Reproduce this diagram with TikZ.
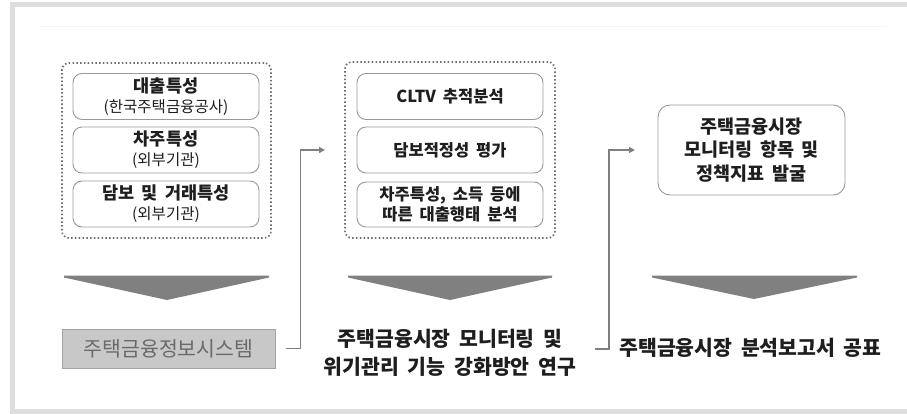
\documentclass[tikz,border=0pt]{standalone}
\usepackage{fontspec}
\setmainfont{Noto Sans CJK KR}
\usetikzlibrary{arrows.meta}
\definecolor{framegray}{HTML}{DEDEDE}
\definecolor{dotgray}{HTML}{6E6E6E}
\definecolor{boxgray}{HTML}{999999}
\definecolor{chevgray}{HTML}{808080}
\definecolor{sysfill}{HTML}{C8C8C8}
\definecolor{sysdraw}{HTML}{A3A3A3}
\definecolor{systext}{HTML}{6A6A6A}
\definecolor{txt}{HTML}{1E1E1E}
\definecolor{conngray}{HTML}{7F7F7F}
\newcommand{\wsp}{\spaceskip=0.42em plus 0.05em\relax}
\tikzset{
  dotbox/.style={draw=dotgray, line width=1.7pt, dash pattern=on 1.5pt off 2.3pt, rounded corners=7pt, minimum width=#1},
  dotbox/.default=209pt,
  itembox/.style={draw=boxgray, line width=0.9pt, rounded corners=9pt, fill=white, minimum width=186pt, minimum height=46pt, align=center, text=txt, inner sep=0pt},
  chev/.style={fill=chevgray, draw=none},
  conn/.style={draw=conngray, line width=1.5pt, -{Triangle[length=6pt,width=6pt]}},
  ttl/.style={font=\fontsize{17.5}{20}\selectfont\bfseries\wsp},
  mttl/.style={font=\fontsize{16.5}{20}\selectfont\bfseries\wsp},
  big/.style={font=\fontsize{20.5}{28}\selectfont\bfseries\wsp, text=txt, align=center, inner sep=0pt},
}
\newcommand{\sub}[1]{{\fontsize{15.5}{20}\selectfont\mdseries #1}}
\begin{document}
\begin{tikzpicture}[x=1pt,y=-1pt]
\useasboundingbox (0,0) rectangle (907,414);
% outer frame
\draw[framegray, line width=5pt] (907,4.5) -- (12.5,4.5) -- (12.5,411.5) -- (907,411.5);
\draw[black!4, line width=1pt] (40,27) -- (887,27);

% left column
\node[dotbox, minimum height=175pt] (dotL) at (166.5,150.5) {};
\node[itembox, ttl] (l1) at (166,96.5) {대출특성\\\sub{(한국주택금융공사)}};
\node[itembox, ttl] (l2) at (166,150) {차주특성\\\sub{(외부기관)}};
\node[itembox, ttl] (l3) at (166,204) {담보 및 거래특성\\\sub{(외부기관)}};
\fill[chev] (64,275.5) -- (269,275.5) -- (269,277.5) -- (167,300) -- (64,277.5) -- cycle;
\node[fill=sysfill, draw=sysdraw, line width=1pt, minimum width=213pt, minimum height=39pt, text=systext, font=\fontsize{20.5}{22}\selectfont, inner sep=0pt] (sys) at (168.5,348.5) {주택금융정보시스템};

% middle column
\node[dotbox=210pt, minimum height=176pt] (dotM) at (450,150) {};
\node[itembox, mttl] (m1) at (450,96.5) {CLTV 추적분석};
\node[itembox, mttl] (m2) at (450,150) {담보적정성 평가};
\node[itembox, mttl, minimum height=45pt] (m3) at (450,204.5) {차주특성, 소득 등에\\따른 대출행태 분석};
\fill[chev] (348,275.5) -- (552,275.5) -- (552,277.5) -- (450,300) -- (348,277.5) -- cycle;
\node[big] (mid) at (450,353) {주택금융시장 모니터링 및\\위기관리 기능 강화방안 연구};

% right column
\node[itembox, font=\fontsize{18.5}{23.5}\selectfont\bfseries\wsp, minimum width=187pt, minimum height=90pt, rounded corners=12pt] (r1) at (751.5,150) {주택금융시장\\모니터링 항목 및\\정책지표 발굴};
\fill[chev] (652,275.5) -- (857,275.5) -- (857,277.5) -- (754,299) -- (652,277.5) -- cycle;
\node[big] (pub) at (750.5,348) {주택금융시장 분석보고서 공표};

% connectors
\coordinate (e1) at (325,150);
\coordinate (s2) at (595,349);
\coordinate (e2) at (635,150);
\draw[conn] ([xshift=10pt]sys.east) -- ++(15,0) |- (e1);
\draw[conn] (s2) -- ++(14,0) |- (e2);
\end{tikzpicture}
\end{document}
